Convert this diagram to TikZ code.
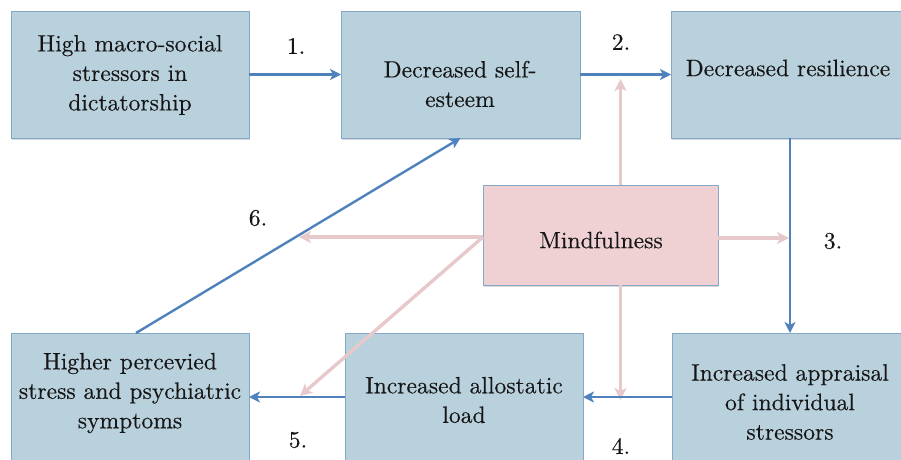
\documentclass[tikz,border=0pt]{standalone}
\usepackage{fontspec}
\newfontfamily\diagfont{lmroman10-regular}[Extension=.otf, FakeBold=0.3]
\usetikzlibrary{arrows.meta,shadows,calc}
\definecolor{boxfill}{HTML}{B9D1DC}
\definecolor{boxline}{HTML}{86A8C8}
\definecolor{pinkfill}{HTML}{EFD0D3}
\definecolor{arrowblue}{HTML}{4F82BD}
\definecolor{pinkarrow}{HTML}{E8C9CB}
\definecolor{textc}{HTML}{161616}
\begin{document}
\begin{tikzpicture}[x=1pt,y=-1pt,
  box/.style={draw=boxline, fill=boxfill, line width=1pt, anchor=north west,
    inner sep=0pt, outer sep=0pt,
    drop shadow={shadow xshift=1pt, shadow yshift=-2pt, opacity=0.25, fill=black!60}},
  mbox/.style={box, fill=pinkfill},
  txt/.style={align=center, font=\diagfont\fontsize{23.6}{29.5}\selectfont, text=textc, inner sep=0pt},
  barrow/.style={draw=arrowblue, line width=2.4pt, -{Stealth[length=11pt,width=11pt,inset=3pt]}},
  parrow/.style={draw=pinkarrow, line width=3.4pt, -{Stealth[length=12pt,width=12pt,inset=3pt]}}
]
\useasboundingbox[fill=white] (0,0) rectangle (901,459);

% boxes
\node[box, minimum width=238pt, minimum height=127pt] (b1) at (11,11) {};
\node[box, minimum width=239pt, minimum height=127pt] (b2) at (341,11) {};
\node[box, minimum width=232pt, minimum height=127pt] (b3) at (671,11) {};
\node[box, minimum width=238pt, minimum height=128pt] (b4) at (11,333) {};
\node[box, minimum width=238pt, minimum height=128pt] (b5) at (345,333) {};
\node[box, minimum width=231pt, minimum height=128pt] (b6) at (672,333) {};
\node[mbox, minimum width=235pt, minimum height=100pt] (m) at (483,185) {};

% texts
\node[txt] (t1) at (130,75) {High macro-social\\stressors in\\dictatorship};
\node[txt] (t2) at (460,84) {Decreased self-\\esteem};
\node[txt] (t3) at (788,68) {Decreased resilience};
\node[txt] (t4) at (130,393) {Higher percevied\\stress and psychiatric\\symptoms};
\node[txt] (t5) at (464,400) {Increased allostatic\\load};
\node[txt] (t6) at (790,402) {Increased appraisal\\of individual\\stressors};
\node[txt] (tm) at (601,240) {Mindfulness};

% step labels
\node[txt] (l1) at (296,46) {1.};
\node[txt] (l2) at (621,42) {2.};
\node[txt] (l3) at (833,241) {3.};
\node[txt] (l4) at (621,446) {4.};
\node[txt] (l5) at (298,440) {5.};
\node[txt] (l6) at (258,218) {6.};

% pink arrows from Mindfulness
\draw[parrow] ([xshift=20pt]m.north) -- ([xshift=20pt,yshift=-4.5pt]m.north |- b2.east);
\draw[parrow] ([xshift=20pt]m.south) -- ([xshift=20pt,yshift=-3pt]m.south |- b5.east);
\draw[parrow] ([yshift=-3pt]m.east) -- ([xshift=2pt,yshift=-3pt]b3.south |- m.east);
\draw[parrow] ([yshift=-2pt]m.west) -- ([xshift=-184pt,yshift=-2pt]m.west);
\draw[parrow] ([yshift=-2pt]m.west) -- ([xshift=51pt,yshift=1pt]b4.east);

% blue arrows
\draw[barrow] (b1.east) -- (b2.west);
\draw[barrow] (b2.east) -- (b3.west);
\draw[barrow] ([xshift=3pt]b3.south) -- ([xshift=3pt]b3.south |- b6.north);
\draw[barrow] (b6.west) -- (b6.west -| b5.east);
\draw[barrow] (b5.west) -- (b5.west -| b4.east);
\draw[barrow] ([xshift=6pt]b4.north) -- (b2.south);
\end{tikzpicture}
\end{document}
